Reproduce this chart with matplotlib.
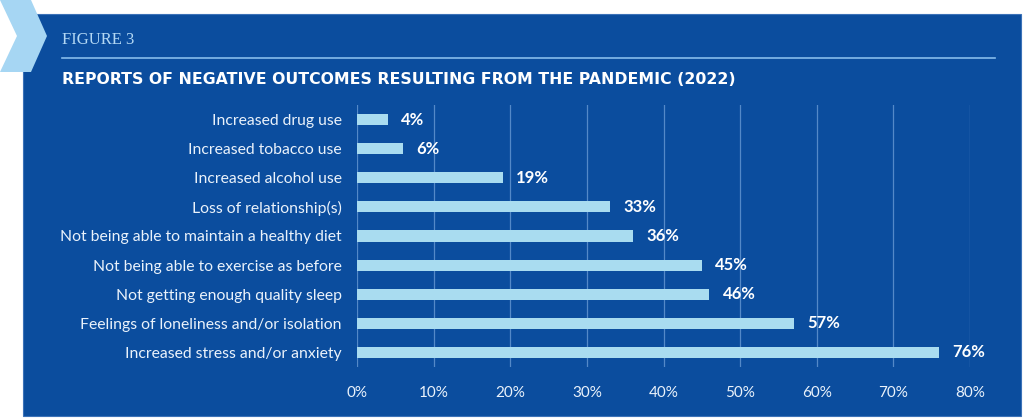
import matplotlib
matplotlib.use("Agg")
import matplotlib.pyplot as plt
from matplotlib.patches import Rectangle, Polygon
from matplotlib.lines import Line2D

categories = [
    "Increased drug use",
    "Increased tobacco use",
    "Increased alcohol use",
    "Loss of relationship(s)",
    "Not being able to maintain a healthy diet",
    "Not being able to exercise as before",
    "Not getting enough quality sleep",
    "Feelings of loneliness and/or isolation",
    "Increased stress and/or anxiety",
]
values = [4, 6, 19, 33, 36, 45, 46, 57, 76]
xticks = [0, 10, 20, 30, 40, 50, 60, 70, 80]
xtick_labels = [f"{t}%" for t in xticks]
figure_label = "FIGURE 3"
title = "REPORTS OF NEGATIVE OUTCOMES RESULTING FROM THE PANDEMIC (2022)"

W, H = 1024, 418
PANEL = "#0b4d9e"
BAR = "#a9dcf0"
CHEV = "#a6d6f3"
GRID = "#5489c8"
TEXT = "#eaf2fb"

fig = plt.figure(figsize=(W / 100, H / 100), dpi=100)
fig.patch.set_facecolor("white")

def fx(x):
    return x / W

def fy(y):
    return 1 - y / H

# panel
fig.patches.append(Rectangle((fx(23), fy(416)), fx(1021) - fx(23), fy(14) - fy(416),
                             transform=fig.transFigure, facecolor=PANEL,
                             edgecolor="#3c72b8", linewidth=0.8, zorder=-2))
# chevron
chev = [(0, 0), (31, 0), (47, 36), (31, 72), (0, 72), (17, 36)]
fig.patches.append(Polygon([(fx(x), fy(y)) for x, y in chev], closed=True,
                           transform=fig.transFigure, facecolor=CHEV,
                           edgecolor="none", zorder=-1))

fig.text(fx(62), fy(40), figure_label, family="Liberation Serif", fontsize=12,
         color="#b3d8f4", ha="left", va="center")
fig.add_artist(Line2D([fx(62), fx(995)], [fy(58), fy(58)], transform=fig.transFigure,
                      color="#86bcec", linewidth=1.2))
fig.text(fx(62), fy(80), title, family="DejaVu Sans", fontweight="bold", fontsize=11.3,
         color="white", ha="left", va="center")

ax = fig.add_axes([fx(357), fy(367), fx(970) - fx(357), fy(105) - fy(367)])
ax.set_facecolor("none")
y = list(range(len(categories)))
ax.barh(y, values, height=0.38, color=BAR, zorder=3)
ax.set_xlim(0, 80)
ax.set_ylim(len(categories) - 0.5, -0.5)
ax.set_xticks(xticks)
ax.set_xticklabels(xtick_labels)
ax.set_yticks(y)
ax.set_yticklabels(categories)
ax.grid(axis="x", color=GRID, linewidth=0.9, zorder=0)
ax.set_axisbelow(True)
for s in ax.spines.values():
    s.set_visible(False)
ax.tick_params(axis="both", length=0, labelcolor=TEXT)
ax.tick_params(axis="y", pad=11, labelsize=11.3)
ax.tick_params(axis="x", pad=14, labelsize=11)
for lab in ax.get_xticklabels() + ax.get_yticklabels():
    lab.set_family("Lato")

for yi, v in zip(y, values):
    ax.annotate(f"{v}%", (v, yi), xytext=(9.5, 0), textcoords="offset points",
                ha="left", va="center", color="white", fontweight="bold",
                family="Lato", fontsize=12, clip_on=False)

fig.savefig("out.png", dpi=100, facecolor=fig.get_facecolor())
